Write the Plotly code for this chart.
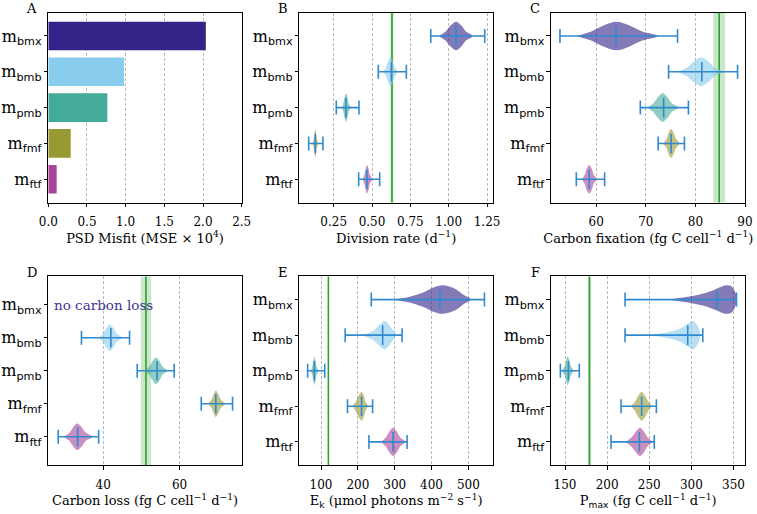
import plotly.graph_objects as go
from plotly.subplots import make_subplots

# ---------------- data ----------------
models = ["bmx", "bmb", "pmb", "fmf", "ftf"]
ypos = [4, 3, 2, 1, 0]
colors = ["#332288", "#88CCEE", "#44AA99", "#999933", "#AA4499"]

psd_misfit = [2.036, 0.979, 0.763, 0.290, 0.108]

# symmetric violin profile (relative half-width)
VW7 = [0, 0.32, 0.75, 1, 0.75, 0.32, 0]

# B: division rate
div_mean = [1.048, 0.626, 0.330, 0.130, 0.467]
div_lo = [0.883, 0.541, 0.267, 0.087, 0.413]
div_hi = [1.235, 0.724, 0.415, 0.180, 0.550]
div_vx = [[0.935, 0.980, 1.014, 1.048, 1.081, 1.113, 1.157],
          [0.572, 0.591, 0.606, 0.620, 0.634, 0.648, 0.667],
          [0.304, 0.314, 0.322, 0.330, 0.339, 0.347, 0.359],
          [0.113, 0.120, 0.125, 0.130, 0.135, 0.141, 0.148],
          [0.439, 0.450, 0.459, 0.467, 0.477, 0.486, 0.500]]
div_vw = [VW7, VW7, VW7, VW7, VW7]
div_obs, div_obs_sd = 0.630, 0.010

# C: carbon fixation
cfix_mean = [64.0, 81.3, 73.6, 75.1, 58.6]
cfix_lo = [52.7, 74.6, 68.9, 72.5, 56.0]
cfix_hi = [76.4, 88.5, 78.6, 77.8, 61.7]
cfix_vx = [[56.0, 59.0, 61.6, 64.1, 66.6, 69.3, 72.5],
           [76.4, 78.4, 79.8, 81.1, 82.5, 83.8, 85.6],
           [70.3, 71.6, 72.5, 73.4, 74.3, 75.2, 76.6],
           [73.5, 74.2, 74.6, 75.1, 75.6, 76.1, 76.8],
           [57.1, 57.7, 58.1, 58.6, 59.1, 59.5, 60.1]]
cfix_vw = [VW7, VW7, VW7, VW7, VW7]
cfix_obs, cfix_obs_sd = 84.8, 1.2

# D: carbon loss (no carbon loss for bmx)
closs_mean = [None, 42.0, 54.1, 69.5, 33.3]
closs_lo = [None, 34.3, 48.9, 65.7, 28.2]
closs_hi = [None, 46.9, 58.6, 73.9, 38.8]
closs_vx = [None,
            [38.8, 40.0, 40.9, 41.7, 42.6, 43.5, 45.0],
            [50.9, 52.1, 53.0, 53.8, 54.7, 55.5, 56.8],
            [67.5, 68.4, 69.0, 69.5, 70.1, 70.8, 71.9],
            [29.6, 31.2, 32.2, 33.2, 34.3, 35.4, 37.2]]
closs_vw = [None, VW7, VW7, VW7, VW7]
closs_obs, closs_obs_sd = 51.2, 1.35

# E: Ek
ek_mean = [422.7, 267.3, 81.8, 210.0, 295.5]
ek_lo = [236.4, 165.5, 63.6, 171.8, 230.0]
ek_hi = [543.6, 320.0, 110.0, 240.0, 333.6]
ek_vx = [[295, 341, 377, 405, 432, 468, 486, 506],
         [209, 241, 259, 273, 291, 304],
         [72, 76.5, 79.5, 82, 84.5, 87.5, 92],
         [185, 194, 202, 210, 216, 221, 227],
         [263, 276, 286, 295.5, 305, 315, 328]]
ek_vw = [[0, 0.2, 0.5, 0.85, 1, 0.7, 0.35, 0],
         [0, 0.3, 0.75, 1, 0.5, 0],
         VW7, VW7, VW7]
ek_obs, ek_obs_sd = 120.0, 0.6

# F: Pmax
pmax_mean = [330.6, 295.7, 154.0, 241.0, 238.3]
pmax_lo = [221.3, 221.3, 144.5, 216.5, 204.7]
pmax_hi = [353.6, 313.6, 167.0, 258.5, 256.0]
pmax_vx = [[272, 296, 315.5, 327.5, 335.5, 341.5, 347, 351, 354],
           [252, 276, 288, 295.7, 301.7, 306.5, 310.5],
           [146.5, 149.5, 151.5, 153.2, 155, 157, 160],
           [228, 233, 237, 241, 245, 249, 253],
           [222, 229, 234.5, 239, 243.5, 248, 253]]
pmax_vw = [[0, 0.2, 0.45, 0.7, 0.9, 1, 0.95, 0.65, 0],
           [0, 0.25, 0.5, 0.8, 1, 0.75, 0],
           VW7, VW7, VW7]
pmax_obs, pmax_obs_sd = 179.0, 1.5

# ---------------- style ----------------
SERIF = "DejaVu Serif"
SANS = "DejaVu Sans"
EB = "#3189cf"
GREEN = "#2ca02c"
HALF = 0.4
GRID = "#b8b8b8"


def rgba(hexc, a):
    h = hexc.lstrip("#")
    r, g, b = int(h[0:2], 16), int(h[2:4], 16), int(h[4:6], 16)
    return f"rgba({r},{g},{b},{a})"


def sub(t):
    return f"<sub><span style=\"font-family:{SANS}\">{t}</span></sub>"


ylabels = ["m" + sub(m) for m in models]

fig = make_subplots(rows=2, cols=3)

# A: bars
fig.add_trace(go.Bar(x=psd_misfit, y=ypos, orientation="h", width=0.8,
                     marker=dict(color=colors, line=dict(width=0)),
                     hoverinfo="skip"), row=1, col=1)


def add_violins(row, col, vx, vw, mean, lo, hi):
    for i in range(5):
        if mean[i] is None:
            continue
        y0 = ypos[i]
        xs = list(vx[i]) + list(vx[i][-2:0:-1])
        ys = [y0 + HALF * w for w in vw[i]] + [y0 - HALF * w for w in vw[i][-2:0:-1]]
        fig.add_trace(go.Scatter(x=xs, y=ys, fill="toself", mode="lines",
                                 fillcolor=rgba(colors[i], 0.6),
                                 line=dict(width=0, shape="spline", color=rgba(colors[i], 0.6)),
                                 hoverinfo="skip"), row=row, col=col)
        fig.add_trace(go.Scatter(x=[mean[i]], y=[y0], mode="markers",
                                 marker=dict(symbol="line-ns-open", size=14,
                                             line=dict(color=EB, width=1.6), color=EB),
                                 error_x=dict(type="data", symmetric=False,
                                              array=[hi[i] - mean[i]],
                                              arrayminus=[mean[i] - lo[i]],
                                              color=EB, thickness=1.6, width=7),
                                 hoverinfo="skip"), row=row, col=col)


add_violins(1, 2, div_vx, div_vw, div_mean, div_lo, div_hi)
add_violins(1, 3, cfix_vx, cfix_vw, cfix_mean, cfix_lo, cfix_hi)
add_violins(2, 1, closs_vx, closs_vw, closs_mean, closs_lo, closs_hi)
add_violins(2, 2, ek_vx, ek_vw, ek_mean, ek_lo, ek_hi)
add_violins(2, 3, pmax_vx, pmax_vw, pmax_mean, pmax_lo, pmax_hi)

# observed reference lines + bands
refs = [("x2", "y2", div_obs, div_obs_sd), ("x3", "y3", cfix_obs, cfix_obs_sd),
        ("x4", "y4", closs_obs, closs_obs_sd), ("x5", "y5", ek_obs, ek_obs_sd),
        ("x6", "y6", pmax_obs, pmax_obs_sd)]
for xr, yr, m, sd in refs:
    fig.add_shape(type="rect", xref=xr, yref=yr + " domain", x0=m - sd, x1=m + sd,
                  y0=0, y1=1, fillcolor=rgba(GREEN, 0.25), line=dict(width=0),
                  layer="below")
    fig.add_shape(type="line", xref=xr, yref=yr + " domain", x0=m, x1=m,
                  y0=0, y1=1, line=dict(color=GREEN, width=1.6), layer="below")

# domains
xdom = [[0.0638, 0.3193], [0.3954, 0.6513], [0.7279, 0.9848]]
ydom = [[0.606, 0.9753], [0.0953, 0.4621]]
letter_y = [0.9825, 0.4698]

xranges = [[0, 2.5], [0.026, 1.289], [50.9, 90.1], [25.6, 76.3], [41, 567], [133.4, 364.3]]
xticks = [[0, 0.5, 1.0, 1.5, 2.0, 2.5], [0.25, 0.5, 0.75, 1.0, 1.25], [60, 70, 80, 90],
          [40, 60], [100, 200, 300, 400, 500], [150, 200, 250, 300, 350]]
xfmt = [".1f", ".2f", "d", "d", "d", "d"]
yranges = [[-0.65, 4.65]] * 3 + [[-0.855, 4.855], [-0.65, 4.65], [-0.65, 4.65]]
xtitles = ["PSD Misfit (MSE × 10<sup>4</sup>)",
           "Division rate (d<sup>−1</sup>)",
           "Carbon fixation (fg C cell<sup>−1</sup> d<sup>−1</sup>)",
           "Carbon loss (fg C cell<sup>−1</sup> d<sup>−1</sup>)",
           "E" + sub("k") + " (μmol photons m<sup>−2</sup> s<sup>−1</sup>)",
           "P" + sub("max") + " (fg C cell<sup>−1</sup> d<sup>−1</sup>)"]
letters = ["A", "B", "C", "D", "E", "F"]

for k in range(6):
    r, c = divmod(k, 3)
    sfx = "" if k == 0 else str(k + 1)
    xa = fig.layout["xaxis" + sfx]
    ya = fig.layout["yaxis" + sfx]
    xa.update(
        domain=xdom[c], range=xranges[k], tickvals=xticks[k], tickformat=xfmt[k],
        automargin=False,
        showgrid=True, gridcolor=GRID, griddash="3px,2px", gridwidth=0.8,
        zeroline=False, showline=True, linecolor="black", linewidth=1.1, mirror=True,
        ticks="outside", ticklen=3.5, tickwidth=1, tickcolor="black",
        tickfont=dict(family=SERIF, size=12, color="black"),
        title=dict(text=xtitles[k], font=dict(family=SERIF, size=13, color="black"), standoff=3))
    ya.update(
        domain=ydom[r], range=yranges[k], tickvals=ypos, ticktext=ylabels,
        automargin=False,
        showgrid=False, zeroline=False, showline=True, linecolor="black", linewidth=1.1,
        mirror=True, ticks="outside", ticklen=3.5, tickwidth=1, tickcolor="black",
        tickfont=dict(family=SERIF, size=16, color="black"))
    try:
        xa.ticklabelstandoff = 5
    except Exception:
        pass
    try:
        ya.ticklabelstandoff = -1
    except Exception:
        pass
    fig.add_annotation(text=letters[k], xref="paper", yref="paper",
                       x=xdom[c][0] - 0.012, y=letter_y[r], xanchor="right", yanchor="middle",
                       showarrow=False, font=dict(family=SERIF, size=13, color="black"))

fig.add_annotation(text="no carbon loss", xref="x4", yref="y4", x=26.6, y=4,
                   xanchor="left", yanchor="middle", showarrow=False,
                   font=dict(family=SERIF, size=13.5, color="#433399"))

fig.update_layout(width=757, height=514, margin=dict(l=0, r=0, t=0, b=0),
                  showlegend=False, plot_bgcolor="white", paper_bgcolor="white",
                  font=dict(family=SERIF, color="black"))

fig.write_html("out.html", post_script="document.body.style.margin='0';",
               config={"displayModeBar": False})
